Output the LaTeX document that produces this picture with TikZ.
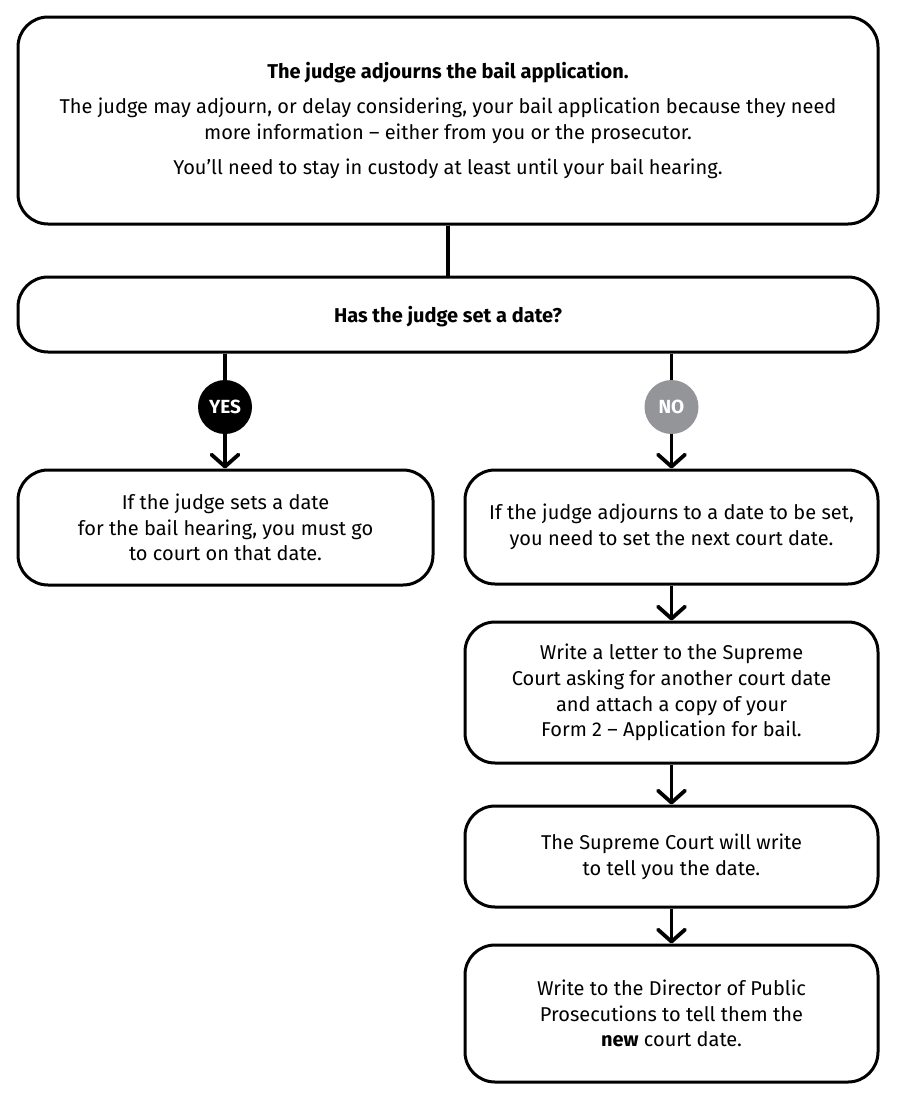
\documentclass[tikz,border=0pt]{standalone}
\usepackage{fontspec}
\setmainfont{Fira Sans}
\usetikzlibrary{arrows.meta}
\definecolor{nogrey}{HTML}{939598}
\begin{document}
\begin{tikzpicture}[x=1pt,y=-1pt,
  box/.style={draw, line width=3pt, rounded corners=30pt, align=center, inner sep=0pt, font=\fontsize{20}{25.8}\selectfont, execute at begin node={\rule{0pt}{19.5pt}}},
  link/.style={line width=3.5pt},
  arr/.style={line width=3.8pt, -{Straight Barb[length=12pt,width=27pt,round]}},
  badge/.style={circle, minimum size=54pt, inner sep=0pt, text=white, font=\bfseries\fontsize{19}{19}\selectfont}]
\useasboundingbox (0,0) rectangle (900,1103);
\node[box, minimum width=860pt, minimum height=207pt] (top) at (448,120.5)
  {{\bfseries The judge adjourns the bail application.}\\[9pt]
   The judge may adjourn, or delay considering, your bail application because they need\\
   more information – either from you or the prosecutor.\\[9pt]
   You’ll need to stay in custody at least until your bail hearing.};
\node[box, minimum width=860pt, minimum height=75pt] (dec) at (448,314.5)
  {\bfseries Has the judge set a date?};
\node[box, minimum width=415pt, minimum height=115pt] (lbox) at (225.5,527.5)
  {If the judge sets a date\\ for the bail hearing, you must go\\ to court on that date.};
\node[box, minimum width=413pt, minimum height=114pt] (r1) at (671.5,527)
  {If the judge adjourns to a date to be set,\\ you need to set the next court date.};
\node[box, minimum width=413pt, minimum height=141pt] (r2) at (671.5,692.5)
  {Write a letter to the Supreme\\ Court asking for another court date\\ and attach a copy of your\\ Form 2 – Application for bail.};
\node[box, minimum width=413pt, minimum height=101pt] (r3) at (671.5,856.5)
  {The Supreme Court will write\\ to tell you the date.};
\node[box, minimum width=413pt, minimum height=137pt] (r4) at (671.5,1013.5)
  {Write to the Director of Public\\ Prosecutions to tell them the\\ {\bfseries new} court date.};
\node[badge, fill=black] (yes) at (225,407) {YES};
\node[badge, fill=nogrey] (no) at (671.5,407) {NO};
\draw[link] (top.south) -- (dec.north);
\draw[link] (dec.south -| yes) -- (yes.north);
\draw[arr] (yes.south) -- (lbox.north -| yes);
\draw[link] (dec.south -| no) -- (no.north);
\draw[arr] (no.south) -- (r1.north);
\draw[arr] (r1.south) -- (r2.north);
\draw[arr] (r2.south) -- (r3.north);
\draw[arr] (r3.south) -- (r4.north);
\end{tikzpicture}
\end{document}
